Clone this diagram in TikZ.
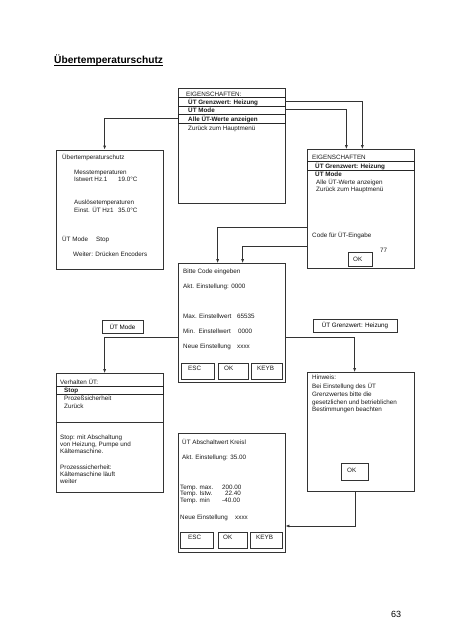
\documentclass[tikz,border=0pt]{standalone}
\usepackage{fontspec}
\setmainfont{Liberation Sans}
\usetikzlibrary{arrows.meta}
\newcommand\txtfs{\fontsize{6.3}{7}\selectfont}
\begin{document}
\begin{tikzpicture}[x=1pt,y=-1pt,
  screen/.style={draw=black!80, line width=0.75pt, minimum width=107pt, minimum height=119pt, inner sep=0pt},
  rowbox/.style={draw=black!85, line width=0.75pt, minimum width=107pt, minimum height=8.5pt, inner sep=0pt},
  btn/.style={draw=black!80, line width=0.75pt, minimum width=31pt, minimum height=15.5pt, inner sep=0pt},
  lbl/.style={draw=black!80, line width=0.6pt, inner sep=0pt, minimum height=13pt, font=\txtfs},
  t/.style={anchor=base west, inner sep=0pt, font=\txtfs, text=black!90},
  tb/.style={t, font=\txtfs\bfseries},
  conn/.style={draw=black!80, line width=0.75pt},
  arr/.style={conn, -{Latex[length=4pt,width=3pt]}},
]
\path[use as bounding box, fill=white] (0,0) rectangle (452,640);

% title
\node[anchor=base west, inner sep=0pt, font=\fontsize{10.2}{12}\selectfont\bfseries] (title) at (54,63) {Übertemperaturschutz};
\draw[line width=0.9pt] ([yshift=-2.3pt]title.base west) -- ([yshift=-2.3pt]title.base east);

% screens
\node[screen, minimum height=115pt] (top) at (231.5,145.5) {};
\node[screen] (lbox) at (109.5,209.5) {};
\node[screen] (rbox) at (360.5,209) {};
\node[screen] (mbox) at (231.5,323) {};
\node[screen] (vbox) at (109.5,433) {};
\node[screen] (hbox) at (360.5,432) {};
\node[screen] (bbox) at (231.5,493) {};

% top box
\node[rowbox] (trow1) at (231.5,101.75) {};
\node[rowbox] (trow3) at (231.5,118.75) {};
\node[t] (t1) at (186,96) {EIGENSCHAFTEN:};
\node[tb] (t2) at (188,104) {ÜT Grenzwert: Heizung};
\node[tb] (t3) at (188,112) {ÜT Mode};
\node[tb] (t4) at (188,121) {Alle ÜT-Werte anzeigen};
\node[t] (t5) at (188,130) {Zurück zum Hauptmenü};

% left box
\node[t] (l1) at (62,159) {Übertemperaturschutz};
\node[t] (l2) at (74,174) {Messtemperaturen};
\node[t] (l3) at (74,181) {Istwert Hz.1};
\node[t] (l3b) at (118,181) {19.0°C};
\node[t] (l4) at (74,204) {Auslösetemperaturen};
\node[t] (l5) at (74,212) {Einst. ÜT Hz1};
\node[t] (l5b) at (118,212) {35.0°C};
\node[t] (l6) at (62,241) {ÜT Mode};
\node[t] (l6b) at (96,241) {Stop};
\node[t] (l7) at (73,256) {Weiter: Drücken Encoders};

% right box
\node[rowbox, minimum height=9pt] (rrow) at (360.5,165.5) {};
\node[t] (r1) at (312,159) {EIGENSCHAFTEN};
\node[tb] (r2) at (315,168) {ÜT Grenzwert: Heizung};
\node[tb] (r3) at (315,176) {ÜT Mode};
\node[t] (r4) at (316,184) {Alle ÜT-Werte anzeigen};
\node[t] (r5) at (316,191.5) {Zurück zum Hauptmenü};
\node[t] (r6) at (312,237) {Code für ÜT-Eingabe};
\node[t] (r7) at (380,252) {77};
\node[btn, minimum width=24pt, minimum height=14pt] (rok) at (360,259) {};
\node[t] (r8) at (353,261) {OK};

% middle box
\node[t] (m1) at (183,273) {Bitte Code eingeben};
\node[t] (m2) at (183,288) {Akt. Einstellung: 0000};
\node[t] (m3) at (183,318) {Max. Einstellwert};
\node[t] (m3b) at (237,318) {65535};
\node[t] (m4) at (183,333) {Min.~~Einstellwert};
\node[t] (m4b) at (238,333) {0000};
\node[t] (m5) at (183,348) {Neue Einstellung};
\node[t] (m5b) at (237,348) {xxxx};
\node[btn, minimum width=33pt] (mesc) at (197.5,371.5) {};
\node[btn, minimum width=30pt] (mok) at (233,371.5) {};
\node[btn, minimum width=31pt] (mkey) at (266.5,371.5) {};
\node[t] (mb1) at (188,370.5) {ESC};
\node[t] (mb2) at (224,370.5) {OK};
\node[t] (mb3) at (257,370.5) {KEYB};

% label boxes
\node[lbl, minimum width=41pt] (lmode) at (122.5,326.5) {ÜT Mode};
\node[lbl, minimum width=84pt] (lgrenz) at (355,325.5) {ÜT Grenzwert: Heizung};

% Verhalten box
\node[rowbox] (vrow) at (109.5,390.25) {};
\draw[conn] ([yshift=11pt]vbox.west) -- ([yshift=11pt]vbox.east);
\node[t] (v1) at (60,384) {Verhalten ÜT:};
\node[tb] (v2) at (64,392.5) {Stop};
\node[t] (v3) at (64,400.5) {Prozeßsicherheit};
\node[t] (v4) at (64,408) {Zurück};
\node[t] (v5) at (60,439) {Stop: mit Abschaltung};
\node[t] (v6) at (60,446) {von Heizung, Pumpe und};
\node[t] (v7) at (60,453) {Kältemaschine.};
\node[t] (v8) at (60,469) {Prozesssicherheit:};
\node[t] (v9) at (60,476) {Kältemaschine läuft};
\node[t] (v10) at (60,483) {weiter};

% Hinweis box
\node[t] (h1) at (312,379) {Hinweis:};
\node[t] (h2) at (312,388) {Bei Einstellung des ÜT};
\node[t] (h3) at (312,396) {Grenzwertes bitte die};
\node[t] (h4) at (312,404) {gesetzlichen und betrieblichen};
\node[t] (h5) at (312,411.5) {Bestimmungen beachten};
\node[btn, minimum width=27pt, minimum height=17pt] (hok) at (354.5,471.5) {};
\node[t] (h6) at (347,472.5) {OK};

% bottom box
\node[t] (b1) at (182,444) {ÜT Abschaltwert Kreisl};
\node[t] (b2) at (182,459) {Akt. Einstellung: 35.00};
\node[t] (b3) at (180,489) {Temp. max.};
\node[t] (b3b) at (222,489) {200.00};
\node[t] (b4) at (180,495.5) {Temp. Istw.};
\node[t] (b4b) at (225,495.5) {22.40};
\node[t] (b5) at (180,502) {Temp. min};
\node[t] (b5b) at (222,502) {-40.00};
\node[t] (b6) at (180,519) {Neue Einstellung};
\node[t] (b6b) at (235,519) {xxxx};
\node[btn, minimum width=33pt, minimum height=16pt] (besc) at (196.5,540) {};
\node[btn, minimum width=29pt, minimum height=16pt] (bok) at (232.5,540) {};
\node[btn, minimum width=32pt, minimum height=16pt] (bkey) at (266,540) {};
\node[t] (bb1) at (188,539.5) {ESC};
\node[t] (bb2) at (223,539.5) {OK};
\node[t] (bb3) at (256,539.5) {KEYB};

% page number
\node[anchor=base west, inner sep=0pt, font=\fontsize{9}{10}\selectfont] (page) at (391,617) {63};

% connectors
\draw[arr] (trow1.east) -| ([xshift=-52pt]rbox.north east);
\draw[arr] (top.east |- t3.center) -| ([xshift=-68pt]rbox.north east);
\draw[arr] (trow3.west) -| ([xshift=49pt]lbox.north west);
\draw[arr] ([yshift=-18pt]rbox.west) -| ([xshift=40pt]mbox.north west);
\draw[arr] ([yshift=-37pt]rbox.west) -| ([xshift=65pt]mbox.north west);
\draw[arr] ([yshift=-14pt]mbox.west) -| ([xshift=49pt]vbox.north west);
\draw[arr] ([yshift=-14pt]mbox.east) -| ([xshift=48pt]hbox.north west);
\draw[arr] ([xshift=49pt]hbox.south west) |- ([yshift=-33pt]bbox.east);
\end{tikzpicture}
\end{document}
